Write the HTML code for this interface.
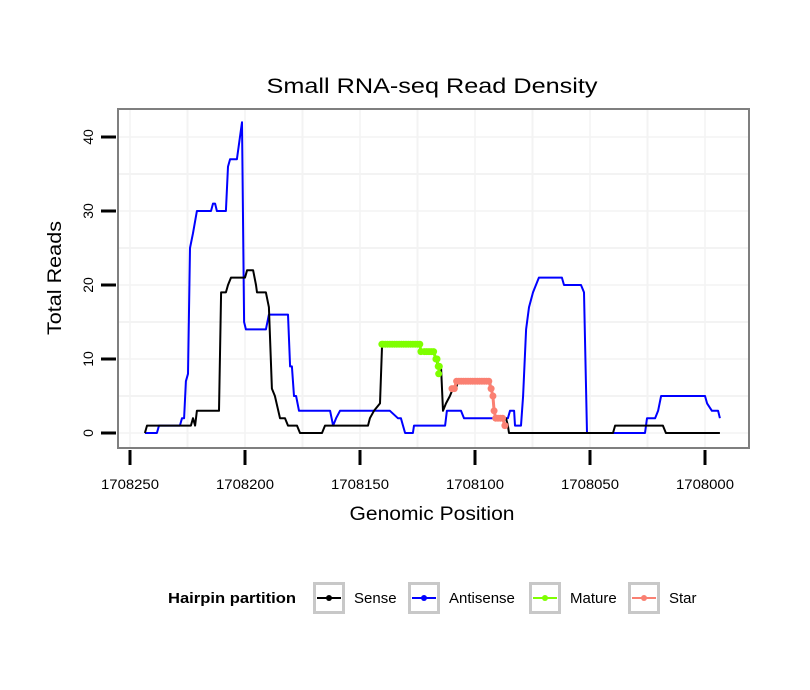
<!DOCTYPE html>
<html><head><meta charset="utf-8"><style>
body{margin:0;background:#fff;}
svg{display:block;font-family:"Liberation Sans",sans-serif;}
</style></head><body>
<svg id="chart" width="810" height="690">
<rect width="810" height="690" fill="#fff"/>
<text x="432" y="93" font-size="21" text-anchor="middle" textLength="331" lengthAdjust="spacingAndGlyphs">Small RNA-seq Read Density</text>
<g id="grid"></g>
<g id="series"></g>
<rect x="118" y="109" width="631" height="339" fill="none" stroke="#7f7f7f" stroke-width="2"/>
<g id="axes"></g>
<text x="432" y="520" font-size="19" text-anchor="middle" textLength="165" lengthAdjust="spacingAndGlyphs">Genomic Position</text>
<text transform="translate(61,278) rotate(-90)" font-size="19" text-anchor="middle" textLength="114" lengthAdjust="spacingAndGlyphs">Total Reads</text>
<g id="legend">
<text x="168" y="603" font-size="15" font-weight="bold" textLength="128" lengthAdjust="spacingAndGlyphs">Hairpin partition</text>
</g>
</svg>
<script>
const xTicks=[1708250,1708200,1708150,1708100,1708050,1708000];
const yTicks=[0,10,20,30,40];
const sensePos=[1708243.5,1708242.6,1708223.5,1708222.6,1708221.7,1708220.9,1708211.3,1708210.4,1708208.3,1708207.4,1708206.1,1708200,1708199.1,1708196.5,1708195.2,1708194.8,1708190.9,1708189.6,1708188.3,1708187,1708184.8,1708182.6,1708181.3,1708177.4,1708176.1,1708166.5,1708165.2,1708146.5,1708145.7,1708143.9,1708141.3,1708140.4,1708123.9,1708123.5,1708117.8,1708117,1708116.1,1708114.8,1708113.9,1708112.6,1708110.9,1708109.6,1708108.3,1708107.4,1708093.5,1708093,1708092.2,1708091.7,1708090.9,1708086.5,1708085.7,1708085.2,1708040,1708039.1,1708018.3,1708017,1707993.5];
const senseVal=[0,1,1,2,1,3,3,19,19,20,21,21,22,22,20,19,19,17,6,5,2,2,1,1,0,0,1,1,2,3,4,12,12,11,11,10,9,9,3,4,5,6,6,7,7,6,5,3,2,2,1,0,0,1,1,0,0];
const antiPos=[1708243.5,1708238.3,1708237.4,1708228.3,1708227.4,1708226.5,1708225.7,1708224.8,1708223.9,1708222.6,1708220.9,1708214.8,1708213.9,1708213,1708212.2,1708208.3,1708207.4,1708206.5,1708203.5,1708201.3,1708200.4,1708199.6,1708190.9,1708189.6,1708181.3,1708180.4,1708179.6,1708178.7,1708177.8,1708176.5,1708163,1708161.7,1708160.4,1708158.7,1708137,1708133.5,1708132.2,1708131.3,1708130.4,1708127,1708126.5,1708113,1708112.2,1708106.1,1708104.8,1708085.7,1708084.8,1708083,1708082.6,1708080,1708079.1,1708077.8,1708076.5,1708074.8,1708072.2,1708062.2,1708061.3,1708053.9,1708052.6,1708051.3,1708026.1,1708025.2,1708021.7,1708020.4,1708019.1,1708000,1707999.1,1707997,1707994.3,1707993.5];
const antiVal=[0,0,1,1,2,2,7,8,25,27,30,30,31,31,30,30,36,37,37,42,15,14,14,16,16,9,9,5,5,3,3,1,2,3,3,2,2,1,0,0,1,1,3,3,2,2,3,3,1,1,5,14,17,19,21,21,20,20,19,0,0,2,2,3,5,5,4,3,3,2];
const maturePos=[1708140.5,1708140,1708139,1708138,1708137,1708136,1708135,1708134,1708133,1708132,1708131,1708130,1708129,1708128,1708127,1708126,1708125,1708124,1708123.5,1708122,1708121,1708120,1708119,1708118,1708117,1708116.5,1708116,1708115.5,1708115.8];
const matureVal=[12,12,12,12,12,12,12,12,12,12,12,12,12,12,12,12,12,12,11,11,11,11,11,11,10,10,9,9,8];
const starPos=[1708110,1708109,1708108,1708107,1708106,1708105,1708104,1708103,1708102,1708101,1708100,1708099,1708098,1708097,1708096,1708095,1708094,1708093,1708092.2,1708091.7,1708091,1708090,1708089,1708088,1708087];
const starVal=[6,6,7,7,7,7,7,7,7,7,7,7,7,7,7,7,7,6,5,3,2,2,2,2,1];
const legendLabels=["Sense","Antisense","Mature","Star"];
const legendColors=["#000000","#0000ff","#7fff00","#fa8072"];

const NS="http://www.w3.org/2000/svg";
const X0=118,X1=749,Y0=109,Y1=448;
function xs(p){return 130+(1708250-p)*2.3;}
function ys(v){return 433-v*7.4;}
function mk(tag,attrs,parent){const e=document.createElementNS(NS,tag);for(const k in attrs)e.setAttribute(k,attrs[k]);parent.appendChild(e);return e;}
const grid=document.getElementById('grid'),series=document.getElementById('series'),axes=document.getElementById('axes'),legend=document.getElementById('legend');
for(let v=0;v<=45;v+=5){const y=ys(v);if(y<Y0||y>Y1)continue;
 const g=mk('line',{x1:X0,x2:X1,y1:y,y2:y,stroke:'#f3f3f3','stroke-width':v%10?2:1.5},grid);
 
 }
for(let p=1708275;p>=1707975;p-=25){const x=xs(p);if(x<X0||x>X1)continue;
 const g=mk('line',{x1:x,x2:x,y1:Y0,y2:Y1,stroke:'#f3f3f3','stroke-width':p%50?2:1.5},grid);
 
 }
function line(pos,val,color,name,w){let d='';pos.forEach((p,i)=>{d+=(i?'L':'M')+xs(p).toFixed(1)+','+ys(val[i]).toFixed(1);});
 const e=mk('path',{d:d,fill:'none',stroke:color,'stroke-width':w,'stroke-linejoin':'round'},series);
 
 }
line(antiPos,antiVal,'#0000ff','antisense-line',2);
line(sensePos,senseVal,'#000000','sense-line',2);
function pts(pos,val,color,name){line(pos,val,color,name+'-line',3);
 pos.forEach((p,i)=>{const c=mk('circle',{cx:xs(p),cy:ys(val[i]),r:3.5,fill:color},series);
 
 });}
pts(maturePos,matureVal,'#7fff00','mature');
pts(starPos,starVal,'#fa8072','star');
yTicks.forEach(v=>{const y=ys(v);
 const t=mk('line',{x1:101,x2:116,y1:y,y2:y,stroke:'#000','stroke-width':3},axes);
 
 
 const l=mk('text',{transform:`translate(93,${y}) rotate(-90)`,'font-size':14,'text-anchor':'middle'},axes);
 l.textContent=v;
 
 });
xTicks.forEach(p=>{const x=xs(p);
 const t=mk('line',{x1:x,x2:x,y1:450,y2:465,stroke:'#000','stroke-width':3},axes);
 
 
 const l=mk('text',{x:x,y:489,'font-size':14,'text-anchor':'middle',textLength:58,lengthAdjust:'spacingAndGlyphs'},axes);
 l.textContent=p;
 
 });
const lx=[313,408,529,628];
legendLabels.forEach((lab,i)=>{const x=lx[i];
 const b=mk('rect',{x:x+1.5,y:583.5,width:29,height:29,fill:'#fff',stroke:'#c8c8c8','stroke-width':3},legend);
 
 
 mk('line',{x1:x+4,x2:x+28,y1:598,y2:598,stroke:legendColors[i],'stroke-width':2},legend);
 mk('circle',{cx:x+16,cy:598,r:3,fill:legendColors[i]},legend);
 const t=mk('text',{x:x+41,y:603,'font-size':15},legend);
 t.textContent=lab;
 
 });
</script>
</body></html>
